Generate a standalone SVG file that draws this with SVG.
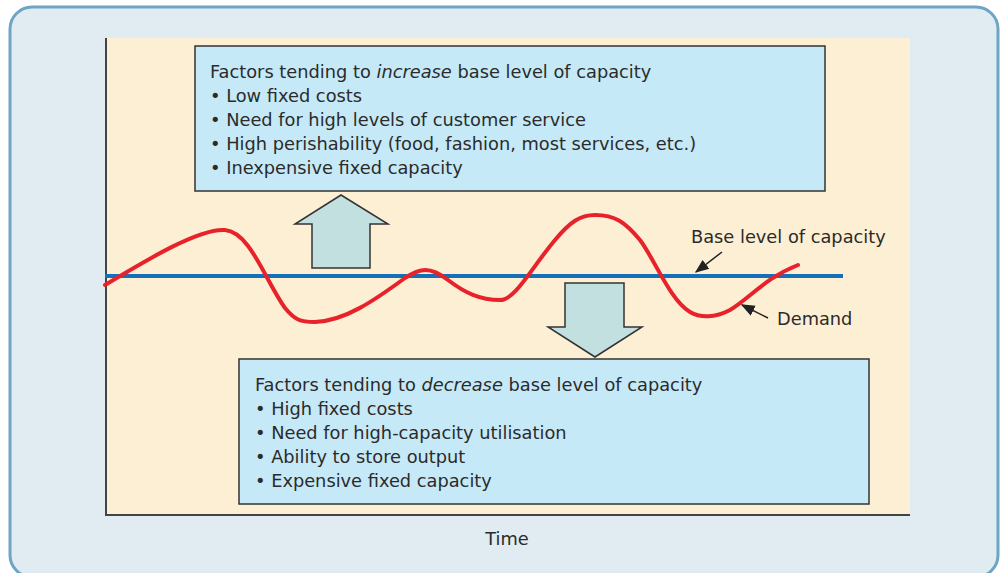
<svg xmlns="http://www.w3.org/2000/svg" width="1000" height="573" viewBox="0 0 1000 573">
<defs>
<style>
.txt{font-family:"DejaVu Sans","Liberation Sans",Arial,sans-serif;font-size:17.8px;fill:#2b2b2b}
.box{fill:#c6e9f8;stroke:#333;stroke-width:1.5}
.arrow{fill:#c3e0e0;stroke:#333;stroke-width:1.5;stroke-linejoin:miter}
.leader{stroke:#222;stroke-width:1.5;fill:none}
</style>
<marker id="ah2" viewBox="0 0 10 10" refX="9" refY="5" markerWidth="14" markerHeight="14" markerUnits="userSpaceOnUse" orient="auto">
<path d="M0,1 L10,5 L0,9 z" fill="#222"/>
</marker>
</defs>
<g id="panel">
<rect x="10" y="7" width="988" height="570" rx="22" fill="#e0ebf2" stroke="#6ea4c4" stroke-width="3"/>
</g>
<g id="plot">
<rect x="105" y="38" width="805" height="477" fill="#fdefd3"/>
<path d="M106,38 V515 H910" fill="none" stroke="#444" stroke-width="2"/>
</g>
<g id="series">
<line id="base-line" x1="105" y1="276" x2="843" y2="276" stroke="#1570b8" stroke-width="4"/>
<path id="demand" d="M105,285 C150,258 200,228 225,230 C250,232 265,280 285,308 C295,320 300,322 315,322 C345,321 375,300 405,278 C420,268 430,266 448,280 C465,293 480,300 500,300 C515,300 530,270 555,240 C570,222 580,215 595,215 C615,215 625,222 640,240 C655,260 670,300 690,312 C700,318 715,318 730,310 C750,298 765,278 798,265" fill="none" stroke="#e8222b" stroke-width="4" stroke-linecap="round"/>
</g>
<g id="up-arrow">
<path class="arrow" d="M341,195 L388,224 L370,224 L370,268 L312,268 L312,224 L295,224 Z"/>
</g>
<g id="down-arrow">
<path class="arrow" d="M565,283 L624,283 L624,327 L642,327 L595,357 L548,327 L565,327 Z"/>
</g>
<g id="increase-box">
<rect class="box" x="195" y="46" width="630" height="145"/>
<text class="txt" x="210" y="78">Factors tending to <tspan font-style="italic">increase</tspan> base level of capacity</text>
<text class="txt" x="210" y="102">• Low fixed costs</text>
<text class="txt" x="210" y="126">• Need for high levels of customer service</text>
<text class="txt" x="210" y="150">• High perishability (food, fashion, most services, etc.)</text>
<text class="txt" x="210" y="174">• Inexpensive fixed capacity</text>
</g>
<g id="decrease-box">
<rect class="box" x="239" y="359" width="630" height="145"/>
<text class="txt" x="255" y="391">Factors tending to <tspan font-style="italic">decrease</tspan> base level of capacity</text>
<text class="txt" x="255" y="415">• High fixed costs</text>
<text class="txt" x="255" y="439">• Need for high-capacity utilisation</text>
<text class="txt" x="255" y="463">• Ability to store output</text>
<text class="txt" x="255" y="487">• Expensive fixed capacity</text>
</g>
<g id="connectors">
<line class="leader" x1="722" y1="252" x2="696" y2="272" marker-end="url(#ah2)"/>
<line class="leader" x1="768" y1="318" x2="742" y2="305" marker-end="url(#ah2)"/>
</g>
<g id="labels">
<text class="txt" x="691" y="243">Base level of capacity</text>
<text class="txt" x="777" y="325">Demand</text>
<text class="txt" x="507" y="545" text-anchor="middle">Time</text>
</g>
</svg>
